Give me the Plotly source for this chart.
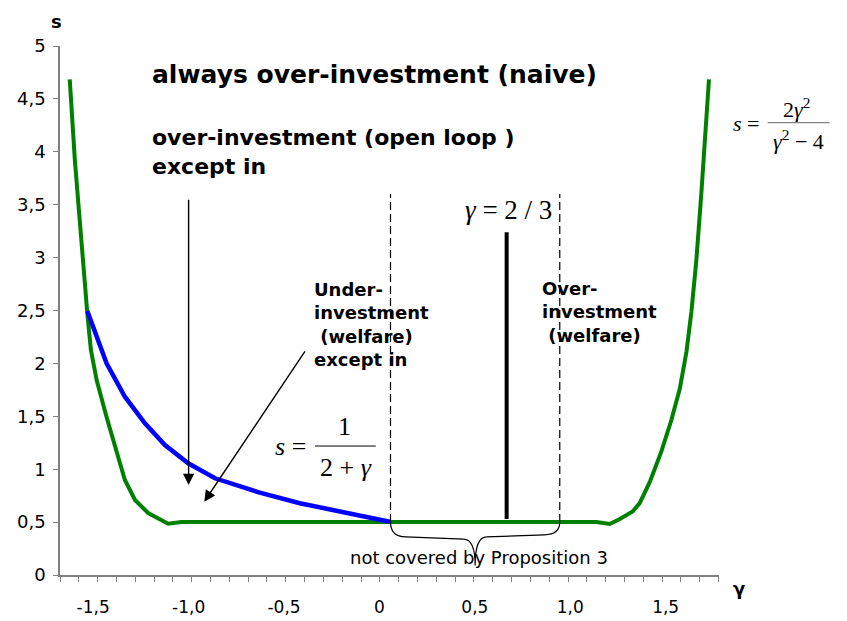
import plotly.graph_objects as go

# ---- data ----
green_gamma = [-1.623, -1.617, -1.596, -1.575, -1.554, -1.547, -1.531, -1.512, -1.482, -1.430,
               -1.377, -1.334, -1.281, -1.212, -1.107, -1.037,
               1.137, 1.207, 1.26, 1.327, 1.364, 1.417, 1.478, 1.530, 1.574, 1.609,
               1.635, 1.661, 1.687, 1.705, 1.727]
green_s = [4.685, 4.49, 3.92, 3.45, 2.98, 2.79, 2.476, 2.127, 1.843, 1.493,
           1.153, 0.898, 0.709, 0.586, 0.485, 0.50,
           0.50, 0.482, 0.53, 0.60, 0.68, 0.88, 1.17, 1.465, 1.76, 2.11,
           2.49, 2.98, 3.61, 4.08, 4.685]

blue_gamma = [-1.531, -1.430, -1.334, -1.229, -1.124, -1.002, -0.862, -0.705, -0.627,
              -0.417, -0.207, -0.068, 0.054]
blue_s = [2.495, 2.0, 1.685, 1.434, 1.229, 1.056, 0.914, 0.819, 0.778,
          0.678, 0.598, 0.551, 0.504]

x_tickvals = [-1.5, -1.0, -0.5, 0.0, 0.5, 1.0, 1.5]
x_ticktext = ["-1,5", "-1,0", "-0,5", "0", "0,5", "1,0", "1,5"]

dashed_gamma = [0.058, 0.945]
dashed_top = 3.6
floor_s = 0.5
gamma_23 = 2 / 3
thick_bottom, thick_top = 0.53, 3.24

x_range = [-1.674, 1.7795]
y_range = [0, 5]

fig = go.Figure()

fig.add_trace(go.Scatter(x=green_gamma, y=green_s, mode="lines",
                         line=dict(color="#008000", width=4), showlegend=False))
fig.add_trace(go.Scatter(x=blue_gamma, y=blue_s, mode="lines",
                         line=dict(color="#0000FF", width=4.5), showlegend=False))

# dashed verticals
for g in dashed_gamma:
    fig.add_shape(type="line", x0=g, x1=g, y0=floor_s, y1=dashed_top, xref="x", yref="y",
                  line=dict(color="black", width=1.2, dash="8px,4px"))
# thick line at gamma = 2/3
fig.add_shape(type="line", x0=gamma_23, x1=gamma_23, y0=thick_bottom, y1=thick_top,
              xref="x", yref="y", line=dict(color="black", width=4))

# curly brace under the flat segment
bx0, bx1 = dashed_gamma
bm = (bx0 + bx1) / 2
by_top, by_mid, by_tip = floor_s, 0.36, 0.09
path = (f"M {bx0},{by_top} Q {bx0},{by_mid} {bx0+0.08},{by_mid} "
        f"L {bm-0.06},{by_mid-0.02} Q {bm},{by_mid-0.02} {bm},{by_tip} "
        f"Q {bm},{by_mid} {bm+0.06},{by_mid} "
        f"L {bx1-0.08},{by_mid+0.02} Q {bx1},{by_mid+0.02} {bx1},{by_top}")
fig.add_shape(type="path", path=path, xref="x", yref="y",
              line=dict(color="black", width=1.2))

bold = "DejaVu Sans"
annos = []
def txt(x, y, text, size, xanchor="left", family=bold, bold_=True, xref="x", yref="y", yanchor="middle"):
    t = f"<b>{text}</b>" if bold_ else text
    annos.append(dict(x=x, y=y, xref=xref, yref=yref, text=t, showarrow=False,
                      xanchor=xanchor, yanchor=yanchor, align="left",
                      font=dict(family=family, size=size, color="black")))

txt(-1.202, 4.726, "always over-investment (naive)", 25)
txt(-1.202, 3.998, "over-investment (open loop )<br>except in", 22)
txt(-0.356, 2.371, "Under-<br>investment<br>\u00a0(welfare)<br>except in", 18)
txt(0.840, 2.486, "Over-<br>investment<br>\u00a0(welfare)", 18)
txt(0.521, 0.17, "not covered by Proposition 3", 18, xanchor="center", bold_=False)

serif = "Liberation Serif"
txt(0.675, 3.45, "<i>γ</i> = 2 / 3", 27, xanchor="center", family=serif, bold_=False)

# formula s = 1/(2+γ)
txt(-0.464, 1.21, "<i>s</i> =", 26, xanchor="center", family=serif, bold_=False)
txt(-0.181, 1.40, "1", 26, xanchor="center", family=serif, bold_=False)
txt(-0.176, 1.02, "2 + <i>γ</i>", 26, xanchor="center", family=serif, bold_=False)
fig.add_shape(type="line", x0=-0.338, x1=-0.019, y0=1.219, y1=1.219, xref="x", yref="y",
              line=dict(color="black", width=1))

# formula s = 2γ²/(γ²-4), outside the plot on the right
txt(1.0405, 0.8544, "<i>s</i> =", 22, xanchor="center", family=serif, bold_=False, xref="paper", yref="paper")
txt(1.1179, 0.8828, "2<i>γ</i><sup>2</sup>", 22, xanchor="center", family=serif, bold_=False, xref="paper", yref="paper")
txt(1.1209, 0.8223, "<i>γ</i><sup>2</sup> − 4", 22, xanchor="center", family=serif, bold_=False, xref="paper", yref="paper")
fig.add_shape(type="line", x0=1.0739, x1=1.1679, y0=0.855, y1=0.855, xref="paper", yref="paper",
              line=dict(color="#666666", width=1))

# axis titles
txt(-0.006, 1.047, "s", 18, xanchor="center", xref="paper", yref="paper")
txt(1.03, -0.025, "γ", 18, xanchor="center", xref="paper", yref="paper")

# arrows
arrow_defs = [(-1.0, 0.85, -1.0, 3.56), (-0.918, 0.693, -0.385, 2.127)]
for (x, y, ax, ay) in arrow_defs:
    annos.append(dict(x=x, y=y, ax=ax, ay=ay, xref="x", yref="y", axref="x", ayref="y",
                      showarrow=True, arrowhead=2, arrowsize=1.6, arrowwidth=1.4,
                      arrowcolor="black", text=""))

# the page body adds an 8px margin, so the figure is 8px smaller and shifted
fig.update_layout(
    width=839, height=613,
    margin=dict(l=52, r=128, t=38, b=46, autoexpand=False),
    paper_bgcolor="white", plot_bgcolor="white",
    separators=",.",
    annotations=annos,
    font=dict(family="DejaVu Sans", size=17, color="black"),
)

fig.update_xaxes(range=x_range, tickvals=x_tickvals, ticktext=x_ticktext, automargin=False,
                 showgrid=False, zeroline=False, showline=True, linecolor="#808080", linewidth=1.5,
                 ticks="outside", ticklen=5, tickcolor="rgba(0,0,0,0)", ticklabelstandoff=11,
                 tickfont=dict(size=17),
                 minor=dict(ticks="outside", ticklen=5, tickcolor="#808080", tickwidth=1,
                            tick0=x_range[0], dtick=0.0986, showgrid=False))
fig.update_yaxes(range=y_range, dtick=0.5, tick0=0, automargin=False,
                 showgrid=False, zeroline=False, showline=True, linecolor="#808080", linewidth=1.5,
                 ticks="outside", ticklen=5, tickcolor="#808080", tickfont=dict(size=18),
                 ticklabelstandoff=4)

fig.write_html("out.html")
